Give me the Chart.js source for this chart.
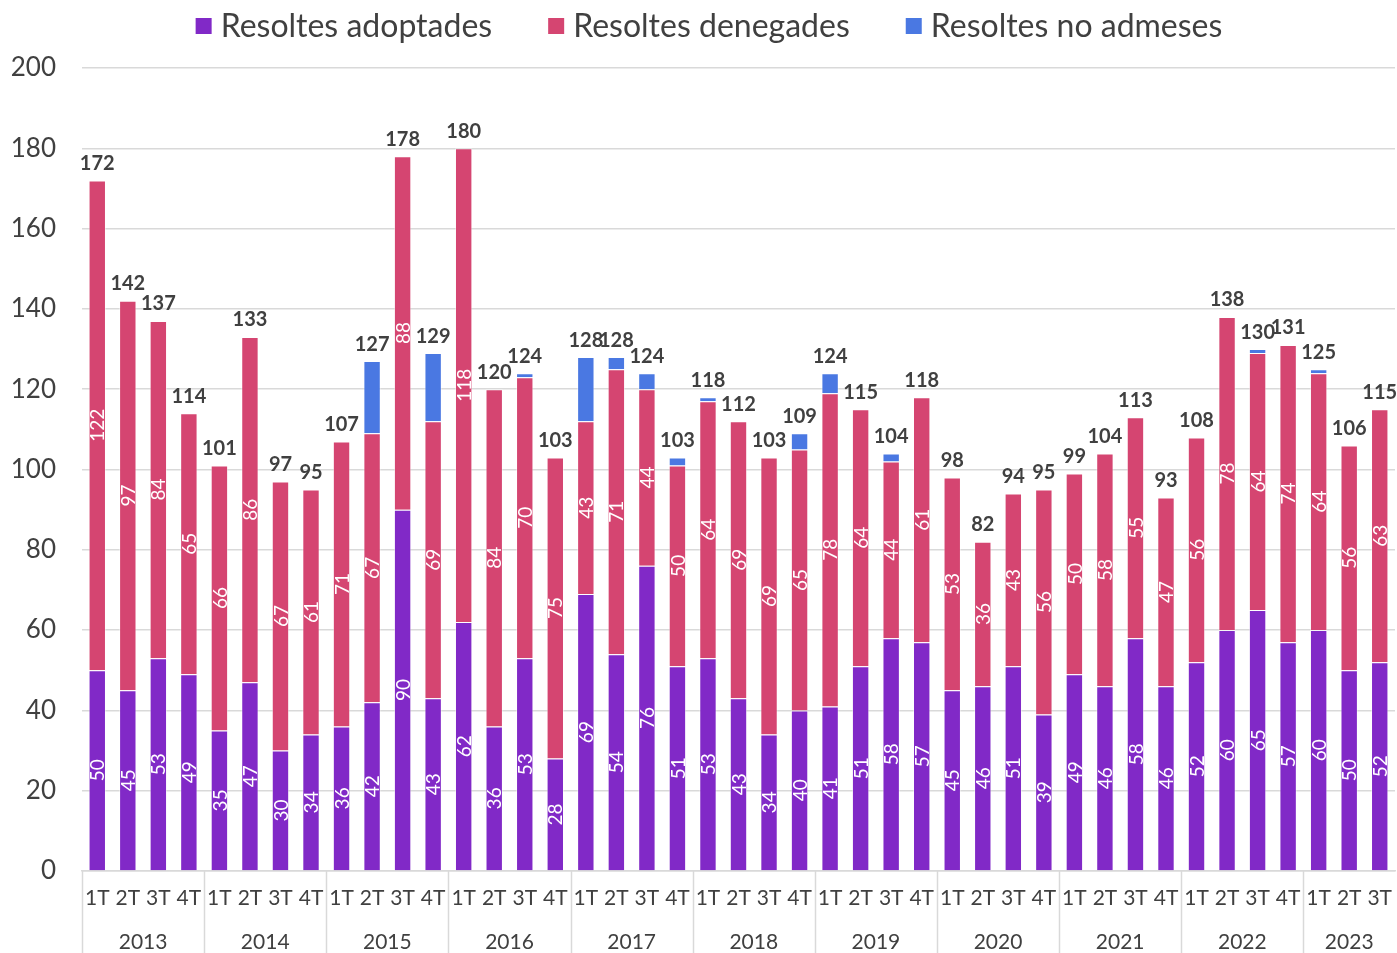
<!DOCTYPE html>
<html>
<head>
<meta charset="utf-8">
<script src="https://cdn.jsdelivr.net/npm/chart.js@4/dist/chart.umd.min.js"></script>
<style>
  html, body { margin: 0; padding: 0; background: #fff; }
  #wrap { width: 1397px; height: 953px; position: relative; }
</style>
</head>
<body>
<div id="wrap"><canvas id="chart"></canvas></div>
<script>
// years and how many quarters each one has in the chart
const years = ['2013', '2014', '2015', '2016', '2017', '2018', '2019', '2020', '2021', '2022', '2023'];
const quartersPerYear = [4, 4, 4, 4, 4, 4, 4, 4, 4, 4, 3];

const quarterLabels = [
  '1T', '2T', '3T', '4T', '1T', '2T', '3T', '4T', '1T', '2T', '3T', '4T',
  '1T', '2T', '3T', '4T', '1T', '2T', '3T', '4T', '1T', '2T', '3T', '4T',
  '1T', '2T', '3T', '4T', '1T', '2T', '3T', '4T', '1T', '2T', '3T', '4T',
  '1T', '2T', '3T', '4T', '1T', '2T', '3T'
];

const adoptades = [
  50, 45, 53, 49, 35, 47, 30, 34, 36, 42, 90, 43,
  62, 36, 53, 28, 69, 54, 76, 51, 53, 43, 34, 40,
  41, 51, 58, 57, 45, 46, 51, 39, 49, 46, 58, 46,
  52, 60, 65, 57, 60, 50, 52
];
const denegades = [
  122, 97, 84, 65, 66, 86, 67, 61, 71, 67, 88, 69,
  118, 84, 70, 75, 43, 71, 44, 50, 64, 69, 69, 65,
  78, 64, 44, 61, 53, 36, 43, 56, 50, 58, 55, 47,
  56, 78, 64, 74, 64, 56, 63
];
const noAdmeses = [
  0, 0, 0, 0, 0, 0, 0, 0, 0, 18, 0, 17,
  0, 0, 1, 0, 16, 3, 4, 2, 1, 0, 0, 4,
  5, 0, 2, 0, 0, 0, 0, 0, 0, 0, 0, 0,
  0, 0, 1, 0, 1, 0, 0
];

const seriesNames = ['Resoltes adoptades', 'Resoltes denegades', 'Resoltes no admeses'];
const seriesColors = ['#8129c7', '#d54571', '#4a78e2'];

const textColor = '#404040';
const gridColor = '#d9d9d9';
const fontFamily = 'Lato, Carlito, sans-serif';

// labels inside bars, totals on top, year row under the quarters and the legend
const decorations = {
  id: 'decorations',
  afterDatasetsDraw(chart) {
    const ctx = chart.ctx;
    const yScale = chart.scales.y;
    ctx.save();
    // white values inside the purple and red parts
    ctx.fillStyle = '#ffffff';
    ctx.font = '19px ' + fontFamily;
    ctx.textAlign = 'center';
    ctx.textBaseline = 'middle';
    [0, 1].forEach(di => {
      const meta = chart.getDatasetMeta(di);
      meta.data.forEach((bar, i) => {
        const v = chart.data.datasets[di].data[i];
        if (!v) return;
        const yc = (bar.y + bar.base) / 2;
        ctx.save();
        ctx.translate(bar.x, yc);
        ctx.rotate(-Math.PI / 2);
        ctx.fillText(String(v), 0, 1);
        ctx.restore();
      });
    });
    // totals
    ctx.fillStyle = textColor;
    ctx.font = 'bold 20px ' + fontFamily;
    const meta0 = chart.getDatasetMeta(0);
    meta0.data.forEach((bar, i) => {
      const total = adoptades[i] + denegades[i] + noAdmeses[i];
      const y = yScale.getPixelForValue(total) - 17;
      ctx.fillText(String(total), bar.x, y);
    });
    ctx.restore();
  },
  afterDraw(chart) {
    const ctx = chart.ctx;
    const xScale = chart.scales.x;
    const area = chart.chartArea;
    const bottom = chart.height;
    const half = (xScale.getPixelForTick(1) - xScale.getPixelForTick(0)) / 2;
    ctx.save();
    ctx.strokeStyle = gridColor;
    ctx.lineWidth = 1.5;
    ctx.fillStyle = textColor;
    ctx.font = '21px ' + fontFamily;
    ctx.textAlign = 'center';
    ctx.textBaseline = 'middle';
    let start = 0;
    years.forEach((yr, k) => {
      const n = quartersPerYear[k];
      const x0 = xScale.getPixelForTick(start) - half;
      const x1 = xScale.getPixelForTick(start + n - 1) + half;
      ctx.beginPath();
      ctx.moveTo(Math.round(x0) + 0.5, area.bottom);
      ctx.lineTo(Math.round(x0) + 0.5, bottom);
      ctx.stroke();
      ctx.fillText(yr, (x0 + x1) / 2, 942);
      start += n;
    });

    // legend
    ctx.font = '32px ' + fontFamily;
    const box = 16, gapBox = 9, gapItem = 56;
    const widths = seriesNames.map(s => ctx.measureText(s).width);
    const total = widths.reduce((a, w) => a + box + gapBox + w, 0) + gapItem * (seriesNames.length - 1);
    let x = 709 - total / 2;
    ctx.textAlign = 'left';
    seriesNames.forEach((name, i) => {
      ctx.fillStyle = seriesColors[i];
      ctx.fillRect(x, 18, box, box);
      ctx.fillStyle = textColor;
      ctx.fillText(name, x + box + gapBox, 27);
      x += box + gapBox + widths[i] + gapItem;
    });
    ctx.restore();
  }
};

const ctx = document.getElementById('chart').getContext('2d');
new Chart(ctx, {
  type: 'bar',
  data: {
    labels: quarterLabels,
    datasets: [
      { label: seriesNames[0], data: adoptades, backgroundColor: seriesColors[0] },
      { label: seriesNames[1], data: denegades, backgroundColor: seriesColors[1] },
      { label: seriesNames[2], data: noAdmeses, backgroundColor: seriesColors[2] }
    ].map(d => Object.assign(d, {
      borderColor: 'rgba(255,255,255,0.45)',
      borderWidth: 1,
      barPercentage: 0.57,
      categoryPercentage: 1
    }))
  },
  options: {
    responsive: true,
    maintainAspectRatio: false,
    animation: false,
    layout: { padding: { top: 68, right: 2, bottom: 0, left: 0 } },
    plugins: {
      legend: { display: false },
      tooltip: { enabled: false }
    },
    scales: {
      x: {
        stacked: true,
        grid: { display: false, drawTicks: false },
        border: { display: true, color: gridColor, width: 1.5 },
        ticks: {
          color: textColor,
          font: { family: fontFamily, size: 21 },
          autoSkip: false,
          maxRotation: 0,
          padding: 15
        },
        afterFit(scale) {
          scale.height = 82;
          scale.paddingLeft = 0;
          scale.paddingRight = 0;
        }
      },
      y: {
        stacked: true,
        min: 0,
        max: 200,
        grid: { color: gridColor, lineWidth: 1.5, drawTicks: false },
        border: { display: false },
        ticks: {
          stepSize: 20,
          color: textColor,
          font: { family: fontFamily, size: 26 },
          padding: 26
        },
        afterFit(scale) {
          scale.width = 82;
        }
      }
    }
  },
  plugins: [decorations]
});
</script>
</body>
</html>
